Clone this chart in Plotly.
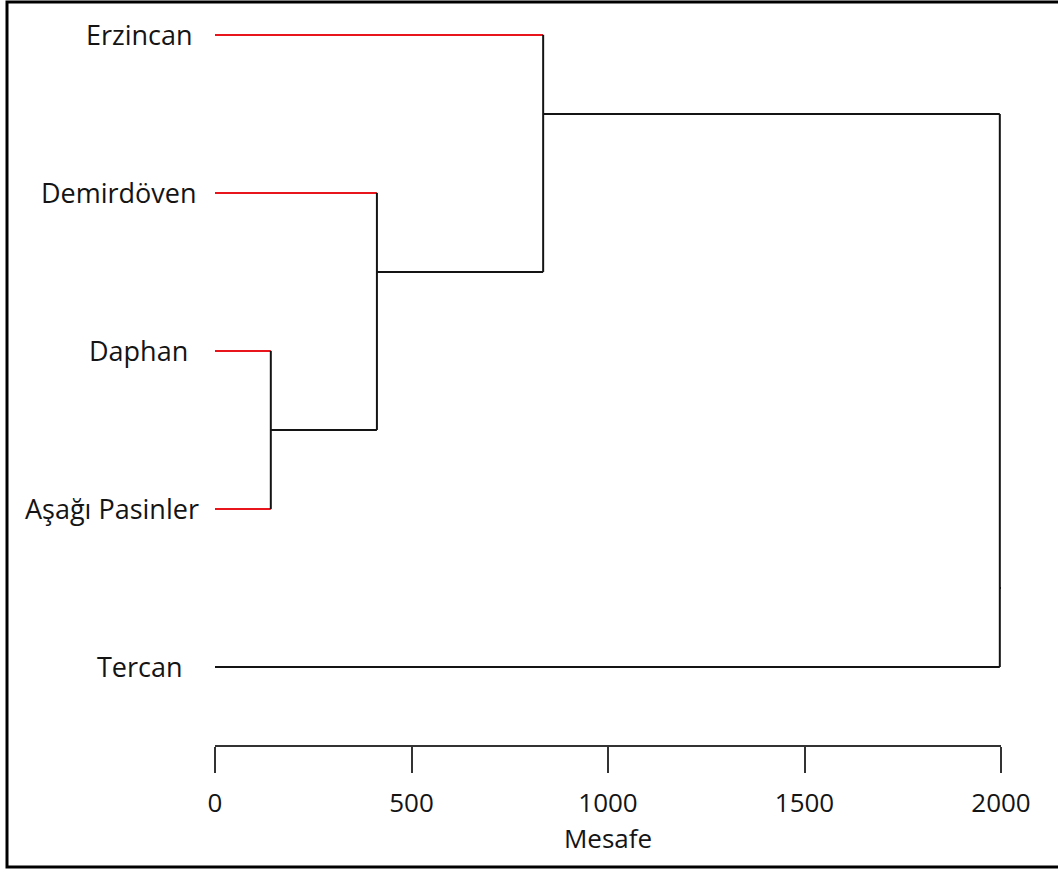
import plotly.graph_objects as go

# Leaves, listed top to bottom
leaves = ["Erzincan", "Demirdöven", "Daphan", "Aşağı Pasinler", "Tercan"]
leaf_pos = [0, 1, 2, 3, 4]
leaf_in_cluster = [True, True, True, True, False]

# Agglomeration steps: merge distance, vertical span (top, bottom) and the stem row
merge_dist = [142, 412, 835, 1997]
merge_top = [2, 1, 0, 0.5]
merge_bottom = [3, 2.5, 1.5, 4]
merge_stem = [2.5, 1.5, 0.5, 3.5]
# index of the merge each merge feeds into (-1 = root)
merge_parent = [1, 2, 3, -1]
# merge each leaf joins first
leaf_parent = [2, 1, 0, 0, 3]

x_ticks = [0, 500, 1000, 1500, 2000]
axis_title = "Mesafe"

RED = "#e8161c"
INK = "#141414"
FONT = "Open Sans"

fig = go.Figure()

# Leaf branches
for i, name in enumerate(leaves):
    end = merge_dist[leaf_parent[i]]
    fig.add_trace(go.Scatter(
        x=[0, end], y=[leaf_pos[i], leaf_pos[i]], mode="lines",
        line=dict(color=RED if leaf_in_cluster[i] else INK, width=2),
        hoverinfo="skip", showlegend=False))

# Merge links: vertical joins and stems to the parent
for k, d in enumerate(merge_dist):
    fig.add_trace(go.Scatter(
        x=[d, d], y=[merge_top[k], merge_bottom[k]], mode="lines",
        line=dict(color=INK, width=2), hoverinfo="skip", showlegend=False))
    p = merge_parent[k]
    stem_end = merge_dist[p] if p >= 0 else d + 6
    fig.add_trace(go.Scatter(
        x=[d, stem_end], y=[merge_stem[k], merge_stem[k]], mode="lines",
        line=dict(color=INK, width=2), hoverinfo="skip", showlegend=False))

# Leaf names to the left of the tree (pixel offsets of each label centre)
label_shift = [-76, -96, -77, -103, -75]
for i, name in enumerate(leaves):
    fig.add_annotation(
        x=0, xref="paper", y=leaf_pos[i], yref="y", text=name,
        showarrow=False, xanchor="center", yanchor="middle",
        xshift=label_shift[i], yshift=0,
        font=dict(family=FONT, size=27, color=INK))

# Outer frame
W, H = 1058, 872
L, R, T, B = 215, 57, 10, 127
pw, ph = W - L - R, H - T - B
fig.add_shape(type="rect", xref="paper", yref="paper",
              x0=(7 - L) / pw, x1=(W + 5 - L) / pw,
              y0=(H - B - 867) / ph, y1=(H - B - 2) / ph,
              line=dict(color="#000000", width=3), fillcolor="rgba(0,0,0,0)",
              layer="above")

fig.update_layout(
    width=W, height=H,
    margin=dict(l=L, r=R, t=T, b=B),
    paper_bgcolor="white", plot_bgcolor="white",
    font=dict(family=FONT, size=26, color=INK),
    xaxis=dict(
        range=[0, 2000], tickvals=x_ticks, ticktext=[str(v) for v in x_ticks],
        showline=True, linecolor="#333333", linewidth=2,
        ticks="outside", ticklen=26, tickwidth=2, tickcolor="#333333",
        ticklabelstandoff=8,
        showgrid=False, zeroline=False,
        tickfont=dict(family=FONT, size=26, color=INK),
        title=dict(text=axis_title, standoff=6,
                   font=dict(family=FONT, size=26, color=INK)),
    ),
    yaxis=dict(
        range=[4.494, -0.158], showticklabels=False, showgrid=False,
        zeroline=False, showline=False, ticks="",
    ),
)

fig.write_html("out.html")
